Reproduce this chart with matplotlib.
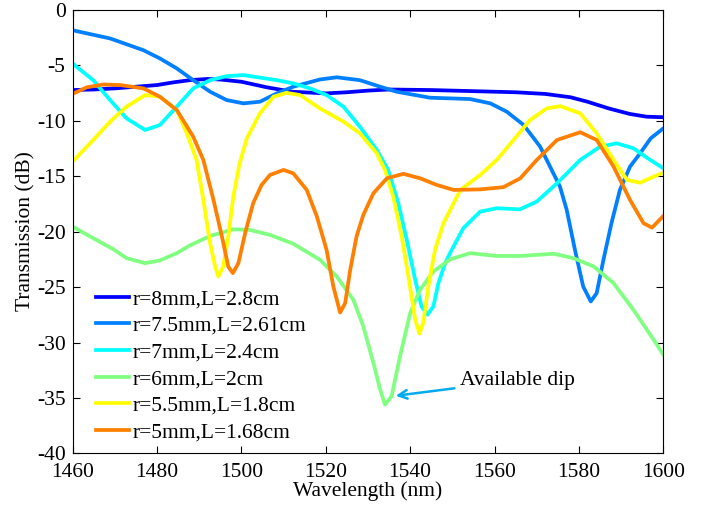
import matplotlib
matplotlib.use("Agg")
import matplotlib.pyplot as plt

plt.rcParams['font.family'] = ['Liberation Serif', 'DejaVu Serif']
plt.rcParams['axes.unicode_minus'] = False

# r=8mm, L=2.8cm
wl_8 = [1460, 1465, 1470, 1475, 1480, 1484, 1488, 1492, 1495, 1500, 1506, 1512, 1520,
        1525, 1530, 1535, 1545, 1555, 1565, 1572, 1578, 1582, 1587, 1592, 1596, 1600]
tr_8 = [-7.25, -7.2, -7.1, -6.95, -6.8, -6.55, -6.35, -6.25, -6.3, -6.5, -7.0, -7.4, -7.55,
        -7.45, -7.3, -7.2, -7.25, -7.35, -7.45, -7.6, -7.9, -8.3, -8.9, -9.4, -9.65, -9.7]

# r=7.5mm, L=2.61cm
wl_75 = [1460, 1468.9, 1476.8, 1480.7, 1484.7, 1488.6, 1492.6, 1496.5, 1500.5, 1504.4,
         1508.4, 1512.3, 1518.6, 1522.6, 1528.1, 1532.9, 1536.8, 1544.7, 1554.2, 1559,
         1562.9, 1566.9, 1570.8, 1575.5, 1577.1, 1579.05, 1581.0, 1582.8, 1584.2, 1585.8,
         1587.7, 1589.7, 1592.1, 1594.5, 1597, 1600]
tr_75 = [-1.86, -2.6, -3.66, -4.4, -5.3, -6.36, -7.4, -8.15, -8.45, -8.3,
         -7.55, -6.95, -6.3, -6.1, -6.36, -6.95, -7.4, -7.94, -8.06, -8.45,
         -9.2, -10.4, -12.35, -15.95, -18.05, -21.65, -24.95, -26.3, -25.55, -22.55,
         -19.25, -16.25, -14.15, -12.95, -11.6, -10.7]

# r=7mm, L=2.4cm
wl_7 = [1460, 1464.9, 1468.9, 1472.8, 1477.2, 1480.7, 1484.7, 1488.6, 1492.6, 1496.5,
        1500.5, 1508.4, 1512.3, 1516.3, 1520.2, 1524.2, 1528.1, 1532.1, 1534.8, 1537.2,
        1539.2, 1541.2, 1542.7, 1544.1, 1545.5, 1546.7, 1548.3, 1549.5, 1552.6, 1556.6,
        1560.5, 1566, 1570, 1574.8, 1580.3, 1585, 1589, 1592.9, 1596.9, 1600]
tr_7 = [-4.86, -6.36, -8.15, -9.8, -10.85, -10.4, -8.75, -7.1, -6.36, -6.0,
        -5.9, -6.36, -6.65, -7.1, -7.7, -8.75, -10.55, -12.65, -14.45, -17.45,
        -20.75, -24.35, -26.75, -27.5, -26.75, -24.65, -22.85, -21.9, -19.7, -18.2,
        -17.9, -18.0, -17.3, -15.65, -13.55, -12.35, -12.05, -12.5, -13.55, -14.3]

# r=6mm, L=2cm
wl_6 = [1460, 1464.9, 1469.7, 1472.8, 1477.2, 1480.7, 1484.7, 1487.8, 1492.6, 1498.1,
        1502, 1506.8, 1512.3, 1518.65, 1522.6, 1526.55, 1528.9, 1531.3, 1532.9, 1534.05,
        1535.6, 1537.6, 1540, 1542.35, 1545.5, 1549.5, 1554.2, 1560.5, 1566.1, 1574,
        1578.7, 1583.5, 1588.2, 1592.9, 1597.7, 1600]
tr_6 = [-19.55, -20.6, -21.6, -22.4, -22.85, -22.6, -21.95, -21.25, -20.4, -19.8,
        -19.85, -20.3, -21.1, -22.55, -24.05, -26.15, -28.55, -31.85, -34.25, -35.6,
        -34.85, -31.25, -27.35, -25.25, -23.6, -22.5, -21.95, -22.2, -22.2, -22.0,
        -22.4, -23.15, -24.65, -27.05, -29.75, -31.1]

# r=5.5mm, L=1.8cm
wl_55 = [1460, 1464.9, 1468.9, 1472.8, 1477.2, 1480.7, 1484.7, 1487.1, 1489.4, 1491,
         1492.6, 1493.8, 1494.55, 1495.7, 1496.9, 1498.1, 1499.5, 1501.3, 1504.4, 1507.6,
         1510.7, 1513.9, 1518.6, 1524.2, 1528.1, 1532.1, 1534.05, 1536, 1538, 1539.6,
         1541.2, 1542.2, 1543.1, 1544.3, 1545.9, 1547.9, 1549.5, 1551.9, 1556.6, 1560.5,
         1564.5, 1568.4, 1572.4, 1575.6, 1580.3, 1584.2, 1588.2, 1591.4, 1594.5, 1597.7,
         1600]
tr_55 = [-13.7, -11.75, -10.1, -8.75, -7.7, -7.85, -9.05, -11.15, -13.55, -17.15,
         -21.05, -23.15, -24.05, -23.15, -20.45, -16.85, -14.0, -11.6, -9.35, -7.85,
         -7.5, -7.7, -8.9, -10.1, -11.15, -12.95, -14.45, -16.85, -20.45, -24.05,
         -27.95, -29.2, -28.25, -24.95, -21.65, -19.25, -18.05, -16.25, -14.9, -13.55,
         -11.75, -9.95, -8.9, -8.7, -9.35, -11.15, -13.55, -15.35, -15.6, -15.05,
         -14.7]

# r=5mm, L=1.68cm
wl_5 = [1460, 1463.4, 1467.3, 1471.3, 1476.8, 1480.7, 1484.7, 1488.6, 1491, 1493.4,
        1495.4, 1496.9, 1498, 1499.3, 1500.9, 1502.8, 1504.8, 1506.8, 1510, 1512.3,
        1515.5, 1517.9, 1520.2, 1521.8, 1523.4, 1524.6, 1525.8, 1527.3, 1528.9, 1531.3,
        1534.5, 1538.4, 1542.35, 1546.3, 1550.3, 1556.6, 1562.1, 1566.1, 1570, 1574.8,
        1580.3, 1584.2, 1588.2, 1592.1, 1595.3, 1597.3, 1600]
tr_5 = [-7.6, -7.0, -6.75, -6.8, -7.1, -7.85, -9.05, -11.45, -13.55, -17.15,
        -20.45, -23.15, -23.75, -22.85, -20.15, -17.45, -15.8, -14.9, -14.45, -14.75,
        -16.25, -18.65, -21.65, -24.95, -27.3, -26.45, -23.45, -20.45, -18.5, -16.55,
        -15.2, -14.8, -15.2, -15.8, -16.25, -16.2, -16.0, -15.2, -13.55, -11.75,
        -11.05, -11.75, -14.15, -17.15, -19.25, -19.65, -18.6]

series = [
    (wl_8, tr_8, '#0000ff', 'r=8mm,L=2.8cm'),
    (wl_75, tr_75, '#0080ff', 'r=7.5mm,L=2.61cm'),
    (wl_7, tr_7, '#00ffff', 'r=7mm,L=2.4cm'),
    (wl_6, tr_6, '#80ff80', 'r=6mm,L=2cm'),
    (wl_55, tr_55, '#ffff00', 'r=5.5mm,L=1.8cm'),
    (wl_5, tr_5, '#ff8000', 'r=5mm,L=1.68cm'),
]

fig = plt.figure(figsize=(7.11, 5.05), dpi=100)
ax = fig.add_axes([0.102, 0.102, 0.831, 0.879])

for x, y, c, lab in series:
    ax.plot(x, y, color=c, lw=2.7, label=lab, solid_joinstyle='round')

ax.set_xlim(1460, 1600)
ax.set_ylim(-40, 0)
ax.set_xticks(range(1460, 1601, 20))
ax.set_yticks(range(-40, 1, 5))
ax.tick_params(direction='in', top=True, right=True, labelsize=15.5, length=5)
ax.tick_params(axis='x', pad=7)
ax.tick_params(axis='y', pad=5)
ax.set_xlabel('Wavelength (nm)', fontsize=15.5, labelpad=-1)
ax.set_ylabel('Transmission (dB)', fontsize=15.5, labelpad=1)

ax.annotate('Available dip', xy=(1536.6, -34.8), xytext=(1551.8, -33.4),
            fontsize=15.5, va='center', ha='left',
            arrowprops=dict(arrowstyle='->', color='#00aaee', lw=1.8,
                            shrinkA=2, shrinkB=0))

ax.legend(loc='upper left', bbox_to_anchor=(0.025, 0.39), frameon=False,
          fontsize=15.5, handlelength=1.55, handletextpad=0.15, labelspacing=0.31,
          borderaxespad=0)

fig.savefig('out.png', dpi=100)
